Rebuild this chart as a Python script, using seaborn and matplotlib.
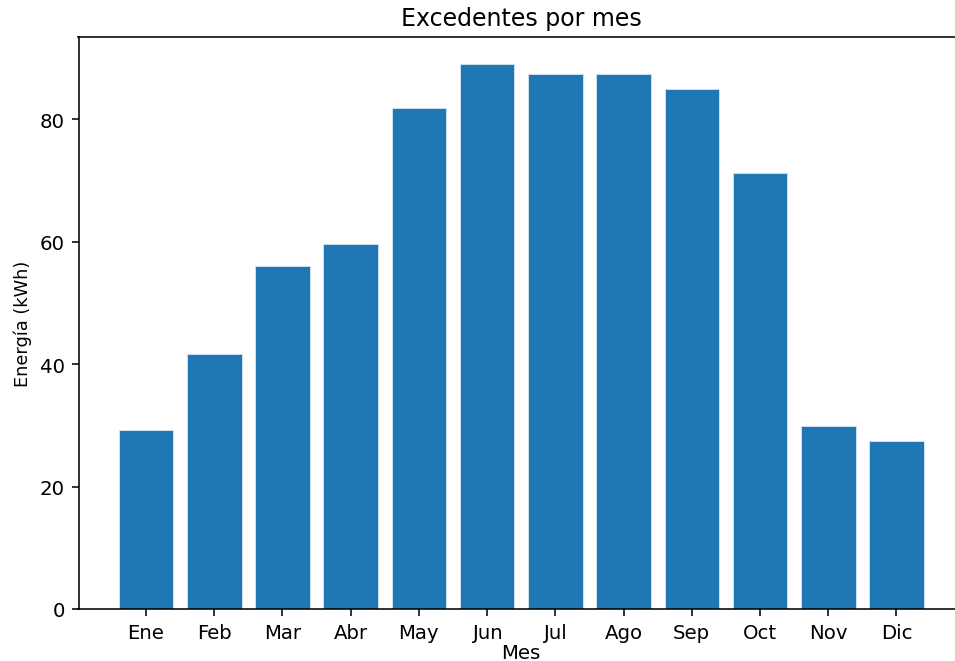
import pandas as pd
import numpy as np
import matplotlib
matplotlib.use('Agg')
import matplotlib.pyplot as plt
import seaborn as sns

meses = ['Ene', 'Feb', 'Mar', 'Abr', 'May', 'Jun', 'Jul', 'Ago', 'Sep', 'Oct', 'Nov', 'Dic']
excedentes = [29.3, 41.7, 56.1, 59.7, 81.8, 89.0, 87.4, 87.4, 84.9, 71.3, 29.9, 27.5]

df = pd.DataFrame({'Mes': meses, 'Energia': excedentes})

dpi = 142
fig = plt.figure(figsize=(955 / dpi, 662 / dpi), dpi=dpi)
# the reference is cropped on the right, so the axes run past the figure edge
ax = fig.add_axes([78.5 / 955, 1 - 610 / 662, (964 - 78.5) / 955, (610 - 38) / 662])
sns.barplot(data=df, x='Mes', y='Energia', order=meses, color='#1f77b4',
            saturation=1, width=0.8, edgecolor='#cfe0ee', linewidth=0.5, ax=ax)
ax.set_xlim(-0.99, 11.99)
ax.set_ylim(0, max(excedentes) * 1.05)
ax.set_title('Excedentes por mes')
ax.set_xlabel('Mes', labelpad=0.5)
ax.set_ylabel('Energía (kWh)', fontsize=9)
plt.savefig('out.png', dpi=dpi)
